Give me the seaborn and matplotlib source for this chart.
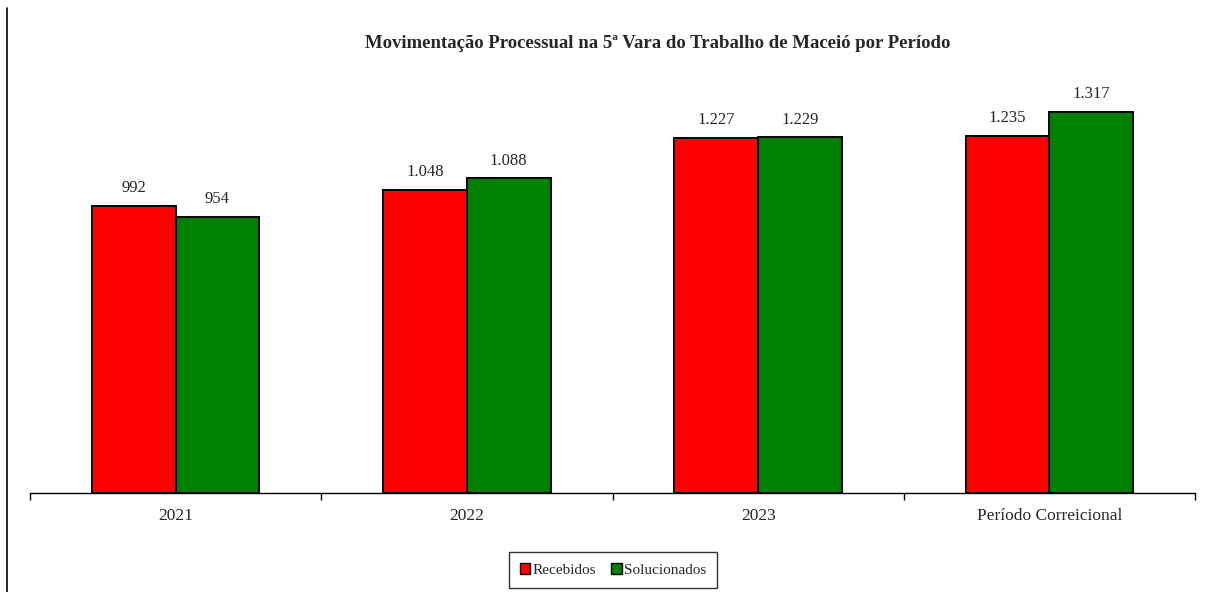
import matplotlib
matplotlib.use("Agg")
import matplotlib.pyplot as plt
import seaborn as sns
import pandas as pd
from matplotlib.lines import Line2D

periodos = ["2021", "2022", "2023", "Período Correicional"]
recebidos = [992, 1048, 1227, 1235]
solucionados = [954, 1088, 1229, 1317]
series = ["Recebidos", "Solucionados"]
cores = ["#FF0000", "#008000"]

df = pd.DataFrame({
    "periodo": periodos * 2,
    "valor": recebidos + solucionados,
    "serie": [series[0]] * 4 + [series[1]] * 4,
})

sns.set_style("white")
plt.rcParams["font.family"] = ["Liberation Serif", "DejaVu Serif"]

fig = plt.figure(figsize=(12.13, 5.92), dpi=100)
ax = fig.add_axes([30 / 1213, 99 / 592, 1165 / 1213, 405 / 592])

sns.barplot(data=df, x="periodo", y="valor", hue="serie", palette=cores,
            saturation=1, width=0.575, edgecolor="black", linewidth=1.4,
            ax=ax, legend=False)

ax.set_ylim(0, 1400)
ax.set_xlim(-0.5, 3.5)
for s in ["top", "right", "left"]:
    ax.spines[s].set_visible(False)
ax.spines["bottom"].set_color("black")
ax.spines["bottom"].set_linewidth(1.0)
ax.set_yticks([])
ax.set_xlabel("")
ax.set_ylabel("")

# ticks between the groups
ax.set_xticks([-0.5, 0.5, 1.5, 2.5, 3.5], minor=False)
ax.set_xticklabels([])
ax.tick_params(axis="x", which="major", direction="out", length=5, width=1, color="black", bottom=True)
ax.set_xticks(range(len(periodos)), minor=True)
ax.set_xticklabels(periodos, minor=True, fontsize=12.5)
ax.tick_params(axis="x", which="minor", length=0, pad=11)

for cont in ax.containers:
    labels = [f"{v:,.0f}".replace(",", ".") for v in cont.datavalues]
    ax.bar_label(cont, labels=labels, padding=7, fontsize=12)

fig.text(658 / 1213, 1 - 43 / 592,
         "Movimentação Processual na 5ª Vara do Trabalho de Maceió por Período",
         ha="center", va="center", fontsize=13.5, fontweight="bold")

handles = [plt.Rectangle((0, 0), 1, 1, facecolor=c, edgecolor="black") for c in cores]
fig.legend(handles, series, loc="center", bbox_to_anchor=(613 / 1213, 1 - 570 / 592),
           ncol=2, frameon=True, fancybox=False, edgecolor="black", fontsize=11,
           handlelength=0.7, handleheight=0.7, handletextpad=0.15, columnspacing=1.0,
           borderpad=0.7)

fig.add_artist(Line2D([7 / 1213, 7 / 1213], [0, 1 - 8 / 592], color="black", linewidth=1.2))

fig.savefig("out.png", dpi=100)
